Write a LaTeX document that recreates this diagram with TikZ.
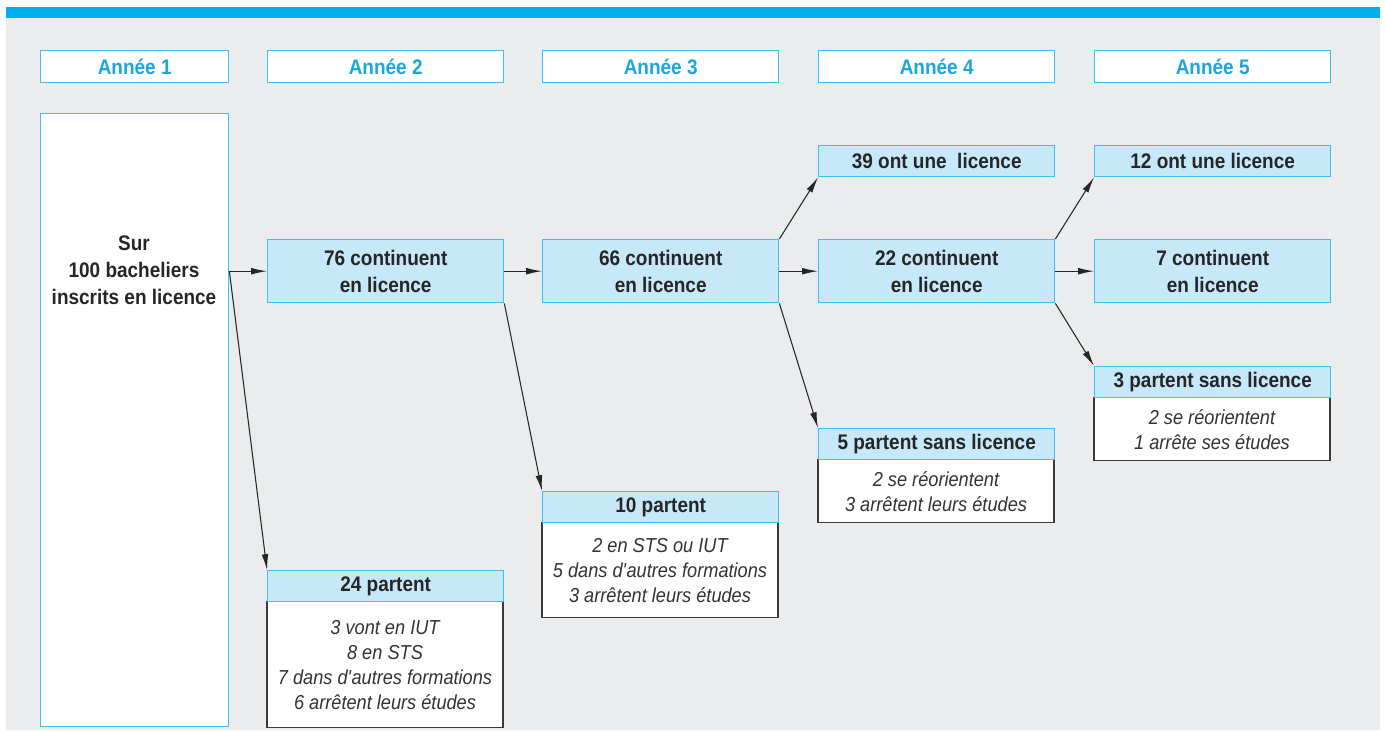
\documentclass[tikz,border=0pt]{standalone}
\usepackage{fontspec}
\setmainfont{Liberation Sans}[FakeStretch=0.9]
\usetikzlibrary{arrows.meta}
\definecolor{barblue}{HTML}{00AEEF}
\definecolor{boxblue}{HTML}{C6E8F8}
\definecolor{lineblue}{HTML}{3CC0F0}
\definecolor{headblue}{HTML}{1BA6E2}
\definecolor{bggray}{HTML}{EBECEE}
\definecolor{darkline}{HTML}{3A3A3A}

\begin{document}
\begin{tikzpicture}[x=0.02cm, y=-0.02cm, >={Latex[length=9pt,width=3.8pt]},
    year/.style ={draw=lineblue, fill=white, line width=0.8pt, anchor=north west, inner sep=0pt,
                  minimum width=4.72cm, minimum height=0.64cm, text=headblue,
                  font=\fontsize{12}{15}\selectfont\bfseries},
    flow/.style ={draw=lineblue, fill=boxblue, line width=0.8pt, anchor=north west, inner sep=0pt,
                  minimum width=4.72cm, minimum height=1.26cm, align=center, text=black!85,
                  font=\fontsize{12}{15.5}\selectfont\bfseries},
    title/.style={flow, minimum height=0.62cm},
    detail/.style={draw=darkline, fill=white, line width=0.8pt, anchor=north, inner sep=0pt,
                  minimum width=4.72cm, align=center, text=black!80,
                  font=\fontsize{11.5}{14.2}\selectfont\itshape},
    link/.style ={draw=black!85, line width=0.6pt, ->}]
   \useasboundingbox (0,0) rectangle (1385,730);
   \fill[bggray] (6,7) rectangle (1380,730);
   \fill[barblue] (6,7) rectangle (1380,18);
   % years
   \node[year, minimum width=3.76cm] (y1) at (40,50) {Année 1};
   \node[year] (y2) at (267,50) {Année 2};
   \node[year] (y3) at (542,50) {Année 3};
   \node[year] (y4) at (818,50) {Année 4};
   \node[year] (y5) at (1094,50) {Année 5};
   % start
   \node[year, minimum width=3.76cm, minimum height=12.26cm] (start) at (40,113) {};
   \node[align=center, font=\fontsize{12}{15.5}\selectfont\bfseries, text=black!85] (starttext) at (134,270) {Sur\\100 bacheliers\\inscrits en licence};
   % continuing
   \node[flow] (c76) at (267,239) {76 continuent\\en licence};
   \node[flow] (c66) at (542,239) {66 continuent\\en licence};
   \node[flow] (c22) at (818,239) {22 continuent\\en licence};
   \node[flow] (c7)  at (1094,239) {7 continuent\\en licence};
   \node[title] (l39) at (818,145) {39 ont une \ licence};
   \node[title] (l12) at (1094,145) {12 ont une licence};
   % leaving
   \node[detail, minimum height=2.52cm] (d24) at (385,601) {3 vont en IUT\\8 en STS\\7 dans d\textquotesingle autres formations\\6 arrêtent leurs études};
   \node[title] (p24) at (267,570) {24 partent};
   \node[detail, minimum height=1.9cm] (d10) at (660,522) {2 en STS ou IUT\\5 dans d\textquotesingle autres formations\\3 arrêtent leurs études};
   \node[title] (p10) at (542,491) {10 partent};
   \node[detail, minimum height=1.26cm] (d5) at (936,459) {2 se réorientent\\3 arrêtent leurs études};
   \node[title] (p5) at (818,428) {5 partent sans licence};
   \node[detail, minimum height=1.26cm] (d3) at (1212,397) {2 se réorientent\\1 arrête ses études};
   \node[title] (p3) at (1094,366) {3 partent sans licence};
   % arrows
   \draw[link] (start.east |- c76.west) -- (c76.west);
   \draw[link] (start.east |- c76.west) -- (p24.north west);
   \draw[link] (c76.east) -- (c66.west);
   \draw[link] (c76.south east) -- (p10.north west);
   \draw[link] (c66.east) -- (c22.west);
   \draw[link] (c66.north east) -- (l39.south west);
   \draw[link] (c66.south east) -- (p5.north west);
   \draw[link] (c22.east) -- (c7.west);
   \draw[link] (c22.north east) -- (l12.south west);
   \draw[link] (c22.south east) -- (p3.north west);
\end{tikzpicture}
\end{document}
